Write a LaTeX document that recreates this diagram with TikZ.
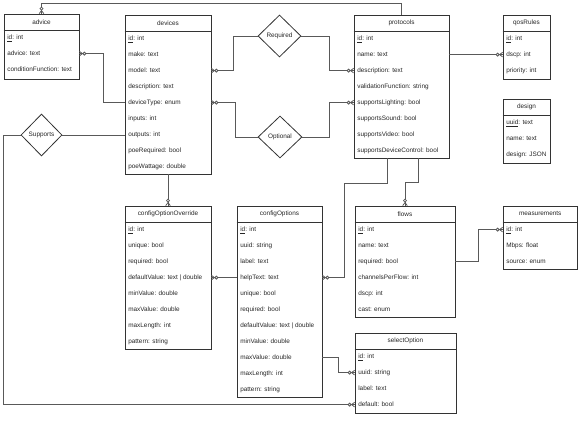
\documentclass[tikz,border=0pt]{standalone}
\usepackage{fontspec}
\setmainfont{Liberation Sans}
\usetikzlibrary{shapes.geometric,fit,calc}

\pgfdeclarearrow{
  name = ZM,
  setup code = {
    \pgfarrowssettipend{0pt}
    \pgfarrowssetlineend{0pt}
    \pgfarrowssetbackend{-6.6pt}
    \pgfarrowssetvisualbackend{-6.6pt}
    \pgfarrowsupperhullpoint{0pt}{2.3pt}
    \pgfarrowsupperhullpoint{-6.6pt}{1.6pt}
  },
  drawing code = {
    \pgfpathmoveto{\pgfqpoint{0pt}{2.3pt}}
    \pgfpathlineto{\pgfqpoint{-3pt}{0pt}}
    \pgfpathlineto{\pgfqpoint{0pt}{-2.3pt}}
    \pgfusepathqstroke
    \pgfsetfillcolor{white}
    \pgfpathcircle{\pgfqpoint{-5pt}{0pt}}{1.5pt}
    \pgfusepathqfillstroke
  }
}

\tikzset{
  tbl/.style={draw=black!80, line width=0.8pt, inner sep=0pt},
  tbline/.style={draw=black!80, line width=0.8pt},
  ttl/.style={inner sep=0pt, font=\fontsize{6.4}{7.6}\selectfont, text=black!85},
  rowtxt/.style={anchor=west, inner sep=0pt, font=\fontsize{6.4}{7.6}\selectfont,
    text height=4.7pt, text depth=1.4pt, text=black!85},
  rel/.style={draw=black!80, line width=0.8pt, diamond, aspect=1, inner sep=0pt,
    minimum width=43pt, minimum height=42pt, font=\fontsize{6.4}{7.6}\selectfont, text=black!85},
  con/.style={draw=black!65, line width=0.8pt},
}

\newcommand\ertable[7]{%
  \coordinate (#1-nw) at (#2,#3);
  \coordinate (#1-se) at (#4,#5);
  \node[tbl, fit=(#1-nw)(#1-se)] (#1) {};
  \node[ttl] at ([yshift=-8.3pt]#1.north) {#6};
  \draw[tbline] ([yshift=-16.5pt]#1.north west) -- ([yshift=-16.5pt]#1.north east);
  \foreach[count=\i] \r in {#7}{%
    \node[rowtxt] (#1-\i) at ([xshift=3.5pt,yshift={-24pt-(\i-1)*16pt}]#1.north west) {\r};}%
}

\begin{document}
\begin{tikzpicture}[x=1pt, y=-1pt]
\useasboundingbox (0,0) rectangle (578,428);

\ertable{adv}{4}{14}{79}{79}{advice}{\underline{id}: int, advice: text, conditionFunction: text}
\ertable{dev}{125}{15}{211}{174}{devices}{\underline{id}: int, make: text, model: text, description: text, deviceType: enum, inputs: int, outputs: int, poeRequired: bool, poeWattage: double}
\ertable{proto}{354}{15}{449}{158}{protocols}{\underline{id}: int, name: text, description: text, validationFunction: string, supportsLighting: bool, supportsSound: bool, supportsVideo: bool, supportsDeviceControl: bool}
\ertable{qos}{503}{15}{550}{79}{qosRules}{\underline{id}: int, dscp: int, priority: int}
\ertable{des}{503}{99}{550}{163}{design}{\underline{uuid}: text, name: text, design: JSON}
\ertable{cov}{125}{206}{211}{349}{configOptionOverride}{\underline{id}: int, unique: bool, required: bool, defaultValue: text | double, minValue: double, maxValue: double, maxLength: int, pattern: string}
\ertable{copt}{237}{206}{322}{397}{configOptions}{\underline{id}: int, uuid: string, label: text, helpText: text, unique: bool, required: bool, defaultValue: text | double, minValue: double, maxValue: double, maxLength: int, pattern: string}
\ertable{flows}{355}{206}{455}{317}{flows}{\underline{id}: int, name: text, required: bool, channelsPerFlow: int, dscp: int, cast: enum}
\ertable{meas}{503}{206}{577.5}{269}{measurements}{\underline{id}: int, Mbps: float, source: enum}
\ertable{sel}{355}{333}{456}{413}{selectOption}{\underline{id}: int, uuid: string, label: text, default: bool}

\node[rel] (req) at (279.5,36) {Required};
\node[rel, minimum width=44pt] (opt) at (280,137) {Optional};
\node[rel, minimum width=41pt] (sup) at (41.5,135) {Supports};

% connectors
\draw[con, ZM-] (adv.north) -- ++(0,-10) -| (proto.north);
\draw[con, ZM-] (adv.east |- adv-2) -- ++(24,0) |- (dev.west |- dev-5);
\draw[con, ZM-] (dev.east |- dev-3) -- ++(22,0) |- (req.west);
\draw[con, -ZM] (req.east) -- ++(27.5,0) |- (proto.west |- proto-3);
\draw[con, ZM-] (dev.east |- dev-5) -- ++(24,0) |- (opt.west);
\draw[con, -ZM] (opt.east) -- ++(27,0) |- (proto.west |- proto-5);
\draw[con] (sup.east) -- (sup.east -| dev.west);
\draw[con, -ZM] (sup.west) -- ++(-17,0) |- (sel.west |- sel-4);
\draw[con, -ZM] (dev.south) -- (cov.north);
\draw[con, -ZM] ([xshift=-14.5pt]proto.south) -- ++(0,25) -- ++(-43,0) |- (copt.east |- copt-4);
\draw[con, -ZM] ([xshift=16.5pt]proto.south) -- ++(0,24) -| (flows.north);
\draw[con, -ZM] (flows.east |- flows-3) -- ++(23,0) |- (meas.west |- meas-1);
\draw[con, ZM-] (cov.east |- cov-4) -- (copt.west |- cov-4);
\draw[con, -ZM] (copt.east |- copt-9) -- ++(16,0) |- (sel.west |- sel-2);
\draw[con, -ZM] (proto.east |- proto-2) -- (qos.west |- proto-2);
\end{tikzpicture}
\end{document}
